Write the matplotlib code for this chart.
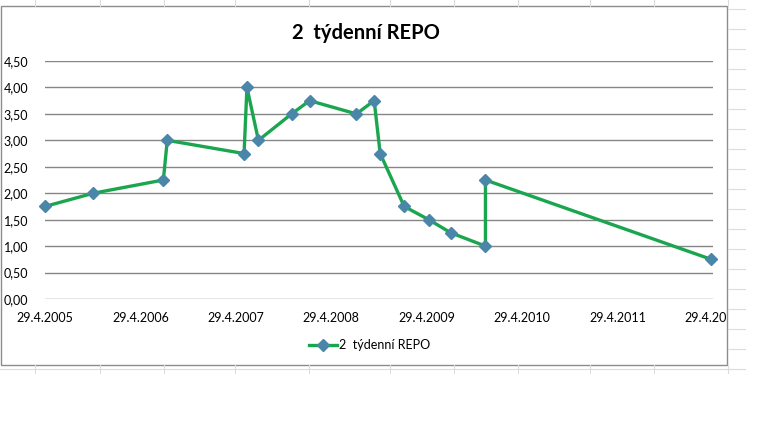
import matplotlib
matplotlib.use("Agg")
import matplotlib.pyplot as plt
from matplotlib.lines import Line2D
from matplotlib.patches import Rectangle
from matplotlib.transforms import Bbox
import datetime as dt

# data
dates = ["2005-04-29", "2005-10-31", "2006-07-26", "2006-08-10", "2007-05-31",
         "2007-06-11", "2007-07-25", "2007-11-29", "2008-02-06", "2008-08-03",
         "2008-10-10", "2008-11-02", "2009-02-02", "2009-05-07", "2009-07-31",
         "2009-12-10", "2009-12-10", "2012-04-22"]
rates = [1.75, 2.00, 2.25, 3.00, 2.75, 4.00, 3.00, 3.50, 3.75, 3.50,
         3.75, 2.75, 1.75, 1.50, 1.25, 1.00, 2.25, 0.75]
series_name = "2  týdenní REPO"
tick_years = [2005, 2006, 2007, 2008, 2009, 2010, 2011, 2012]
y_ticks = [0.0, 0.5, 1.0, 1.5, 2.0, 2.5, 3.0, 3.5, 4.0, 4.5]

W, H = 771, 436
plt.rcParams['font.family'] = ['Lato', 'DejaVu Sans']

fig = plt.figure(figsize=(W / 100, H / 100), dpi=100)
fig.patch.set_facecolor("white")


def px(x0, y0, x1, y1):
    # figure fraction from pixel box (top-left origin)
    return [x0 / W, 1 - y1 / H, (x1 - x0) / W, (y1 - y0) / H]


# faint spreadsheet cell lines behind the chart
cell = "#dcdcdc"
for xc in [35, 100, 164, 235, 309, 390, 454, 518, 590, 654, 728]:
    fig.add_artist(Line2D([xc / W, xc / W], [1, 1 - 6 / H], color=cell, lw=0.8))
    fig.add_artist(Line2D([xc / W, xc / W], [1 - 365 / H, 1 - 373 / H], color=cell, lw=0.8))
for yc in range(9, 372, 20):
    fig.add_artist(Line2D([728 / W, 745 / W], [1 - yc / H, 1 - yc / H], color=cell, lw=0.8))
fig.add_artist(Line2D([0, 745 / W], [1 - 369 / H, 1 - 369 / H], color=cell, lw=0.8))

# chart border
fig.add_artist(Rectangle((1 / W, 1 - 365 / H), 726 / W, 359 / H, fill=False,
                         edgecolor="#8c8c8c", lw=1.0, transform=fig.transFigure))

ax = fig.add_axes(px(45, 61, 713, 299))
x = [dt.datetime.strptime(d, "%Y-%m-%d") for d in dates]
ax.plot(x, rates, color="#1aa64f", lw=2.4, marker="D", markersize=6,
        markerfacecolor="#4a86a8", markeredgecolor="#4a86a8", label=series_name,
        zorder=3, clip_on=False)

ax.set_xlim(dt.datetime(2005, 4, 29), dt.datetime(2012, 4, 29))
ax.set_ylim(0, 4.5)
ax.set_yticks(y_ticks)
ax.set_yticklabels([f"{v:.2f}".replace(".", ",") for v in y_ticks])
xt = [dt.datetime(yr, 4, 29) for yr in tick_years]
ax.set_xticks(xt)
ax.set_xticklabels([f"29.4.{yr}" for yr in tick_years])
ax.grid(axis="y", color="#868686", lw=1.0)
ax.set_axisbelow(True)
for s in ax.spines.values():
    s.set_visible(False)
ax.tick_params(axis="both", length=0, labelsize=9, colors="#000000")
ax.tick_params(axis="x", pad=9)
ax.tick_params(axis="y", pad=12)

# clip the last date label at the chart border like the original
clip = Bbox.from_extents(0, H - 365, 727, H)
for lab in ax.get_xticklabels():
    lab.set_clip_on(True)
    lab.set_clip_box(clip)

fig.text(366 / W, 1 - 33 / H, series_name, ha="center", va="center",
         fontsize=14.5, fontweight="bold")

ax.legend(loc="center", bbox_to_anchor=(370 / W, 1 - 345 / H),
          bbox_transform=fig.transFigure, frameon=False, fontsize=9,
          handlelength=2.2, handletextpad=0.2)

fig.savefig("out.png", dpi=100, facecolor="white")
